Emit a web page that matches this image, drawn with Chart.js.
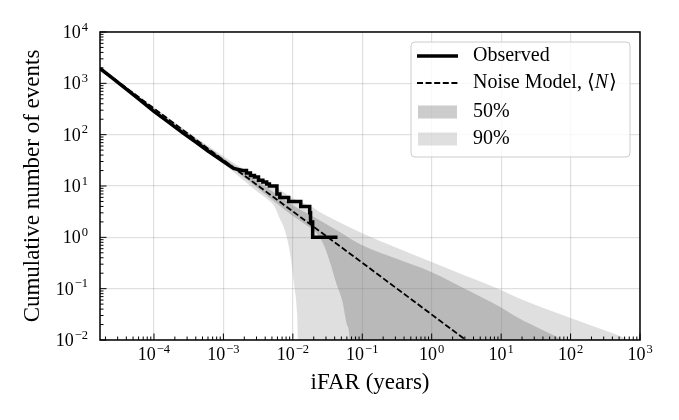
<!DOCTYPE html>
<html>
<head>
<meta charset="utf-8">
<script src="https://cdn.jsdelivr.net/npm/chart.js@4.4.1/dist/chart.umd.min.js"></script>
<style>
  html, body { margin: 0; padding: 0; background: #fff; }
  #wrap { width: 679px; height: 420px; }
</style>
</head>
<body>
<div id="wrap"><canvas id="ifarChart"></canvas></div>
<script>
// observed cumulative counts (step corners)
const obsIfar = [1.67e-5, 2.5e-5, 4e-5, 6e-5, 1e-4, 1.6e-4, 2.6e-4, 4e-4, 6e-4, 1e-3, 1.4e-3,
  1.9e-3, 2.15e-3, 2.15e-3, 2.45e-3, 2.45e-3, 2.8e-3, 2.8e-3, 3.2e-3, 3.2e-3, 3.7e-3, 3.7e-3,
  4.2e-3, 4.2e-3, 4.6e-3, 4.6e-3, 5.9e-3, 5.9e-3, 6.5e-3, 6.5e-3, 8.7e-3, 8.7e-3, 1.3e-2, 1.3e-2,
  1.75e-2, 1.75e-2, 1.8e-2, 1.8e-2, 1.93e-2, 1.93e-2, 4.4e-2];
const obsCount = [1950, 1280, 770, 500, 285, 178, 108, 72, 48, 30, 22,
  20, 20, 18, 18, 16, 16, 15, 15, 13, 13, 12,
  12, 11, 11, 10, 10, 7, 7, 6, 6, 5, 5, 4,
  4, 3, 3, 2, 2, 1, 1];

// noise model <N>
const modelIfar = [1.67e-5, 1e-3, 1e-1, 3.1];
const modelCount = [1960, 32, 0.32, 0.01];

// 50% band
const band50UpIfar = [1.67e-5, 1e-4, 1e-3, 2e-3, 5e-3, 1e-2, 2.4e-2, 4.6e-2, 0.1, 0.3, 1, 3, 10, 18, 40, 70, 200, 1000];
const band50UpCount = [2010, 330, 35, 18.5, 8, 4.2, 2.17, 1.3, 0.7, 0.39, 0.21, 0.1, 0.043, 0.0264, 0.0155, 0.0107, 0.004, 0.001];
const band50LoIfar = [1.67e-5, 1e-3, 3e-3, 5e-3, 1e-2, 1.5e-2, 2.2e-2, 2.8e-2, 3.5e-2, 4.2e-2, 5.2e-2, 6e-2, 6.6e-2, 6.9e-2, 1000];
const band50LoCount = [1980, 30, 9.5, 5.4, 2.6, 1.8, 1.2, 0.7, 0.3, 0.13, 0.055, 0.02, 0.01, 0.001, 0.001];

// 90% band
const band90UpIfar = [1.67e-5, 1e-4, 1e-3, 2e-3, 4e-3, 6.4e-3, 1e-2, 1.9e-2, 2.4e-2, 4.6e-2, 0.1, 0.3, 1, 3, 10, 18, 100, 300, 600, 1000];
const band90UpCount = [2080, 340, 38, 21, 12.5, 8.5, 5.8, 3.9, 3.15, 2.0, 1.2, 0.64, 0.33, 0.18, 0.094, 0.065, 0.0268, 0.0157, 0.011, 0.008];
const band90LoIfar = [1.67e-5, 1e-4, 1e-3, 2e-3, 3e-3, 4.3e-3, 5.5e-3, 6.5e-3, 7.5e-3, 8.5e-3, 9.5e-3, 1.05e-2, 1.15e-2, 1.25e-2, 1000];
const band90LoCount = [1940, 300, 27, 12.5, 8, 5.5, 3.9, 2.3, 1.5, 0.8, 0.35, 0.11, 0.035, 0.001, 0.001];

// axis ranges and labelled decades
const xMin = 1.67e-5, xMax = 1e3;
const yMin = 1e-2, yMax = 1e4;
const xDecades = [-4, -3, -2, -1, 0, 1, 2, 3];
const yDecades = [-2, -1, 0, 1, 2, 3, 4];

const SERIF = '"Liberation Serif", "DejaVu Serif", serif';
const fill50 = 'rgba(128,128,128,0.4)';
const fill90 = 'rgba(128,128,128,0.25)';

function pts(xs, ys) {
    return xs.map((x, i) => ({ x: x, y: ys[i] }));
}

// draws 10^exp with a raised exponent
function powLabel(ctx, exp, x, yMid, align) {
    const sup = exp < 0 ? '\u2212' + (-exp) : String(exp);
    ctx.font = '18px ' + SERIF;
    const wb = ctx.measureText('10').width;
    ctx.font = '12.5px ' + SERIF;
    const ws = ctx.measureText(sup).width;
    const total = wb + ws + 1;
    const x0 = align === 'right' ? x - total : x - total / 2;
    const base = yMid + 6;
    ctx.textAlign = 'left';
    ctx.textBaseline = 'alphabetic';
    ctx.fillStyle = '#000';
    ctx.font = '18px ' + SERIF;
    ctx.fillText('10', x0, base);
    ctx.font = '12.5px ' + SERIF;
    ctx.fillText(sup, x0 + wb + 1, base - 7.5);
}

const axesDecor = {
    id: 'axesDecor',
    afterDatasetsDraw(chart) {
        const { ctx, chartArea: a } = chart;
        const xs = chart.scales.x, ys = chart.scales.y;
        ctx.save();
        ctx.strokeStyle = '#000';
        ctx.lineWidth = 1;
        // inward major and minor ticks
        for (let d = -6; d <= 4; d++) {
            for (let m = 1; m <= 9; m++) {
                const v = m * Math.pow(10, d);
                const len = m === 1 ? 6.5 : 3.5;
                if (v >= xMin * 0.999 && v <= xMax * 1.001) {
                    const px = xs.getPixelForValue(v);
                    ctx.beginPath();
                    ctx.moveTo(px, a.bottom);
                    ctx.lineTo(px, a.bottom - len);
                    ctx.stroke();
                }
                if (v >= yMin * 0.999 && v <= yMax * 1.001) {
                    const py = ys.getPixelForValue(v);
                    ctx.beginPath();
                    ctx.moveTo(a.left, py);
                    ctx.lineTo(a.left + len, py);
                    ctx.stroke();
                }
            }
        }
        ctx.lineWidth = 1.5;
        ctx.strokeRect(a.left, a.top, a.right - a.left, a.bottom - a.top);

        xDecades.forEach(e => powLabel(ctx, e, xs.getPixelForValue(Math.pow(10, e)), a.bottom + 14, 'center'));
        yDecades.forEach(e => powLabel(ctx, e, a.left - 12, ys.getPixelForValue(Math.pow(10, e)), 'right'));
        ctx.restore();
    },
    afterDraw(chart) {
        const { ctx, chartArea: a } = chart;
        const bx = a.right - 229, by = a.top + 10, bw = 219, bh = 115;
        ctx.save();
        ctx.beginPath();
        ctx.roundRect(bx, by, bw, bh, 4);
        ctx.fillStyle = 'rgba(255,255,255,0.8)';
        ctx.fill();
        ctx.strokeStyle = '#cccccc';
        ctx.lineWidth = 1;
        ctx.stroke();

        const hx = bx + 6, hw = 41, tx = bx + 62;
        const rows = [by + 14, by + 41, by + 70, by + 97];
        ctx.strokeStyle = '#000';
        ctx.lineWidth = 3.5;
        ctx.beginPath();
        ctx.moveTo(hx, rows[0]); ctx.lineTo(hx + hw, rows[0]);
        ctx.stroke();
        ctx.lineWidth = 1.8;
        ctx.setLineDash([6, 2.6]);
        ctx.beginPath();
        ctx.moveTo(hx, rows[1]); ctx.lineTo(hx + hw, rows[1]);
        ctx.stroke();
        ctx.setLineDash([]);
        ctx.fillStyle = fill50;
        ctx.fillRect(hx + 1, rows[2] - 6.5, hw - 2, 13);
        ctx.fillStyle = fill90;
        ctx.fillRect(hx + 1, rows[3] - 6.5, hw - 2, 13);

        ctx.fillStyle = '#000';
        ctx.textAlign = 'left';
        ctx.textBaseline = 'middle';
        ctx.font = '20px ' + SERIF;
        ctx.fillText('Observed', tx, rows[0]);
        const nm = 'Noise Model, \u27E8';
        ctx.fillText(nm, tx, rows[1]);
        let w = ctx.measureText(nm).width;
        ctx.font = 'italic 20px ' + SERIF;
        ctx.fillText('N', tx + w, rows[1]);
        w += ctx.measureText('N').width;
        ctx.font = '20px ' + SERIF;
        ctx.fillText('\u27E9', tx + w + 1, rows[1]);
        ctx.fillText('50%', tx, rows[2]);
        ctx.fillText('90%', tx, rows[3]);
        ctx.restore();
    }
};

const bandStyle = { borderColor: 'transparent', borderWidth: 0, pointRadius: 0, cubicInterpolationMode: 'monotone' };

const data = {
    datasets: [
        { label: 'Observed', data: pts(obsIfar, obsCount), borderColor: '#000', borderWidth: 3.5,
          pointRadius: 0, fill: false, borderJoinStyle: 'miter' },
        { label: 'Noise Model', data: pts(modelIfar, modelCount), borderColor: '#000', borderWidth: 1.8,
          borderDash: [6, 2.6], pointRadius: 0, fill: false },
        Object.assign({ label: '50%', data: pts(band50UpIfar, band50UpCount), fill: 3, backgroundColor: fill50 }, bandStyle),
        Object.assign({ label: '50% low', data: pts(band50LoIfar, band50LoCount), fill: false }, bandStyle),
        Object.assign({ label: '90%', data: pts(band90UpIfar, band90UpCount), fill: 5, backgroundColor: fill90 }, bandStyle),
        Object.assign({ label: '90% low', data: pts(band90LoIfar, band90LoCount), fill: false }, bandStyle)
    ]
};

const config = {
    type: 'line',
    data: data,
    options: {
        responsive: true,
        maintainAspectRatio: false,
        animation: false,
        layout: { padding: { top: 32, right: 39, left: 0, bottom: 0 } },
        plugins: {
            legend: { display: false },
            tooltip: { enabled: false }
        },
        scales: {
            x: {
                type: 'logarithmic',
                min: xMin,
                max: xMax,
                afterBuildTicks: (scale) => { scale.ticks = xDecades.map(e => ({ value: Math.pow(10, e) })); },
                afterFit: (scale) => { scale.height = 80; },
                ticks: { display: false },
                grid: { color: 'rgba(0,0,0,0.12)', lineWidth: 1.2, drawTicks: false },
                border: { display: false },
                title: { display: true, text: 'iFAR (years)', color: '#000',
                         font: { family: SERIF, size: 23 }, padding: { top: 0, bottom: 23 } }
            },
            y: {
                type: 'logarithmic',
                min: yMin,
                max: yMax,
                afterBuildTicks: (scale) => { scale.ticks = yDecades.map(e => ({ value: Math.pow(10, e) })); },
                afterFit: (scale) => { scale.width = 100; },
                ticks: { display: false },
                grid: { color: 'rgba(0,0,0,0.12)', lineWidth: 1.2, drawTicks: false },
                border: { display: false },
                title: { display: true, text: 'Cumulative number of events', color: '#000',
                         font: { family: SERIF, size: 23 }, padding: { top: 19, bottom: 0 } }
            }
        }
    },
    plugins: [axesDecor]
};

new Chart(document.getElementById('ifarChart'), config);
</script>
</body>
</html>
